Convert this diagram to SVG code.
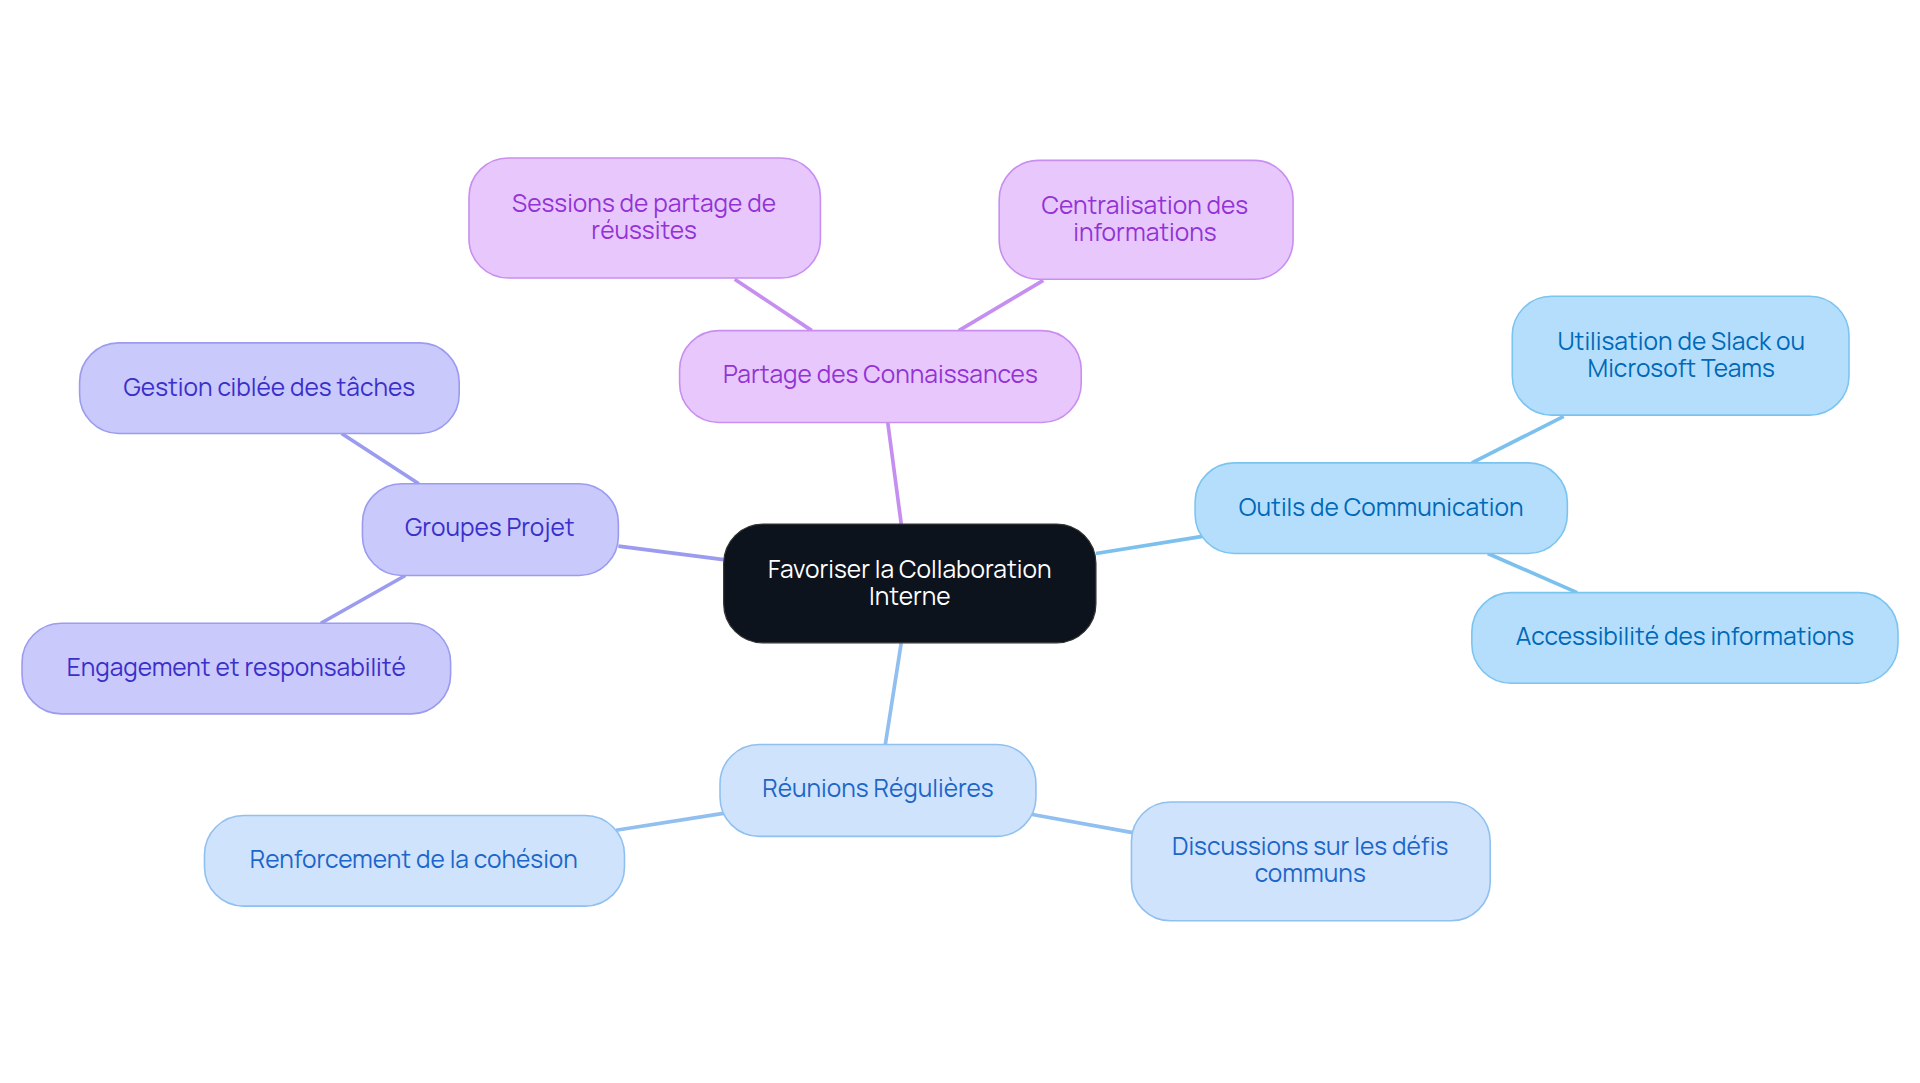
<svg xmlns="http://www.w3.org/2000/svg" width="1920" height="1083" viewBox="0 0 1920 1083">
<style>
text{font-family:Manrope,Inter,"Noto Sans",sans-serif;font-size:20px;text-anchor:middle}
.e{fill:none;stroke-width:3}
.p rect{fill:#e8c8fc;stroke:#c88ef0;stroke-width:1.3}.p text{fill:#9333d6}
.o rect{fill:#b5defc;stroke:#7cc4f0;stroke-width:1.3}.o text{fill:#0069b8}
.g rect{fill:#c9c9fc;stroke:#9b9bef;stroke-width:1.3}.g text{fill:#3b2fc9}
.r rect{fill:#cfe3fc;stroke:#90c0f0;stroke-width:1.3}.r text{fill:#1c66c9}
</style>
<rect width="1920" height="1083" fill="#fff"/>
<g transform="scale(1.2245)">
<g id="connectors">
<path class="e" stroke="#c58ef0" d="M736 428L725 345M663 270L600 228M783 270L852 229"/>
<path class="e" stroke="#7cc0ee" d="M895 452L982 438M1202 378L1277 340M1215 452L1288 484"/>
<path class="e" stroke="#9b9bef" d="M591 457L505 446M342 395L279 354M331 470L262 509"/>
<path class="e" stroke="#90bff0" d="M736 525L723 608M592 664L503 678M842 665L925 680"/>
</g>
<g id="center"><rect x="591" y="428" width="304" height="97" rx="32" fill="#0d131c" stroke="#333" stroke-width="1"/><text x="743" y="472" fill="#fff">Favoriser la Collaboration</text><text x="743" y="494" fill="#fff">Interne</text></g>
<g id="partage" class="p"><rect x="555" y="270" width="328" height="75" rx="32"/><text x="719" y="313">Partage des Connaissances</text></g>
<g id="sessions" class="p"><rect x="383" y="129" width="287" height="98" rx="32"/><text x="526" y="173">Sessions de partage de</text><text x="526" y="195">réussites</text></g>
<g id="centralisation" class="p"><rect x="816" y="131" width="240" height="97" rx="32"/><text x="935" y="175">Centralisation des</text><text x="935" y="197">informations</text></g>
<g id="outils" class="o"><rect x="976" y="378" width="304" height="74" rx="32"/><text x="1128" y="421">Outils de Communication</text></g>
<g id="utilisation" class="o"><rect x="1235" y="242" width="275" height="97" rx="32"/><text x="1373" y="286">Utilisation de Slack ou</text><text x="1373" y="308">Microsoft Teams</text></g>
<g id="accessibilite" class="o"><rect x="1202" y="484" width="348" height="74" rx="32"/><text x="1376" y="527">Accessibilité des informations</text></g>
<g id="groupes" class="g"><rect x="296" y="395" width="209" height="75" rx="32"/><text x="400" y="438">Groupes Projet</text></g>
<g id="gestion" class="g"><rect x="65" y="280" width="310" height="74" rx="32"/><text x="220" y="323">Gestion ciblée des tâches</text></g>
<g id="engagement" class="g"><rect x="18" y="509" width="350" height="74" rx="32"/><text x="193" y="552">Engagement et responsabilité</text></g>
<g id="reunions" class="r"><rect x="588" y="608" width="258" height="75" rx="32"/><text x="717" y="651">Réunions Régulières</text></g>
<g id="renforcement" class="r"><rect x="167" y="666" width="343" height="74" rx="32"/><text x="338" y="709">Renforcement de la cohésion</text></g>
<g id="discussions" class="r"><rect x="924" y="655" width="293" height="97" rx="32"/><text x="1070" y="698">Discussions sur les défis</text><text x="1070" y="720">communs</text></g>
</g>
</svg>
